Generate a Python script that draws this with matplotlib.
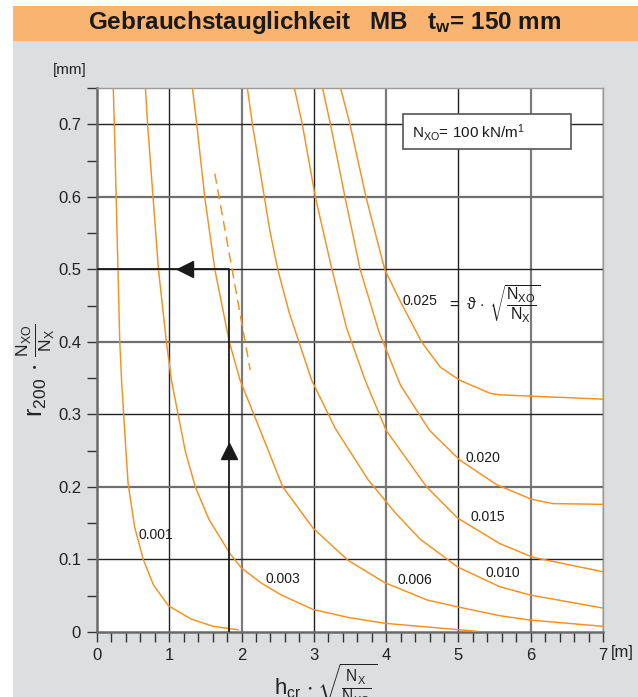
import matplotlib
matplotlib.use("Agg")
import matplotlib.pyplot as plt
from matplotlib import font_manager
from matplotlib.patches import Rectangle

avail = {f.name for f in font_manager.fontManager.ttflist}
NARROW = "Liberation Sans Narrow" if "Liberation Sans Narrow" in avail else "Liberation Sans"
plt.rcParams["font.family"] = [NARROW, "DejaVu Sans"]
plt.rcParams["mathtext.fontset"] = "custom"
plt.rcParams["mathtext.rm"] = NARROW
plt.rcParams["mathtext.it"] = NARROW
plt.rcParams["mathtext.bf"] = NARROW + ":bold"

# ---------------- data ----------------
c001_x = [0.225, 0.24, 0.265, 0.29, 0.315, 0.34, 0.375, 0.43, 0.52, 0.64, 0.78, 0.99, 1.30, 1.60, 1.95]
c001_y = [0.75, 0.70, 0.60, 0.50, 0.40, 0.347, 0.29, 0.205, 0.145, 0.10, 0.065, 0.036, 0.018, 0.008, 0.003]

c003_x = [0.67, 0.70, 0.85, 0.96, 1.03, 1.22, 1.36, 1.55, 1.84, 2.00, 2.28, 2.55, 2.99, 3.48, 3.98, 5.25]
c003_y = [0.75, 0.70, 0.50, 0.40, 0.347, 0.25, 0.20, 0.155, 0.108, 0.088, 0.067, 0.051, 0.031, 0.020, 0.012, 0.001]

c006_x = [1.32, 1.38, 1.49, 1.63, 1.83, 1.98, 2.25, 2.57, 2.99, 3.47, 3.98, 4.57, 5.02, 5.57, 5.99, 7.0]
c006_y = [0.75, 0.70, 0.60, 0.50, 0.40, 0.347, 0.28, 0.20, 0.143, 0.099, 0.068, 0.044, 0.034, 0.0225, 0.0165, 0.0078]

c010_x = [2.08, 2.15, 2.39, 2.50, 2.66, 2.97, 3.30, 3.75, 4.12, 4.47, 4.99, 5.57, 5.99, 7.0]
c010_y = [0.75, 0.70, 0.554, 0.50, 0.44, 0.347, 0.28, 0.21, 0.165, 0.128, 0.0896, 0.0625, 0.051, 0.033]

c015_x = [2.73, 2.84, 3.02, 3.25, 3.45, 3.71, 4.00, 4.56, 4.99, 5.57, 6.03, 7.0]
c015_y = [0.75, 0.70, 0.60, 0.50, 0.42, 0.347, 0.278, 0.20, 0.157, 0.122, 0.103, 0.083]

c020_x = [3.12, 3.23, 3.43, 3.64, 3.90, 4.20, 4.60, 5.02, 5.53, 6.01, 6.31, 7.0]
c020_y = [0.75, 0.70, 0.60, 0.50, 0.414, 0.34, 0.278, 0.237, 0.203, 0.183, 0.177, 0.176]

c025_x = [3.37, 3.50, 3.72, 3.98, 4.19, 4.49, 4.75, 5.02, 5.44, 5.57, 7.0]
c025_y = [0.75, 0.70, 0.60, 0.50, 0.457, 0.40, 0.365, 0.347, 0.329, 0.327, 0.321]

curve_labels = ["0.001", "0.003", "0.006", "0.010", "0.015", "0.020", "0.025"]
label_x = [0.82, 2.57, 4.40, 5.62, 5.40, 5.34, 4.47]
label_y = [0.134, 0.073, 0.072, 0.081, 0.158, 0.240, 0.456]

dash_x = [1.63, 2.12]
dash_y = [0.632, 0.361]

path_x = [0.0, 1.83, 1.83]
path_y = [0.5, 0.5, 0.0]
arrow_up = (1.83, 0.249)
arrow_left = (1.22, 0.5)

xticks = [0, 1, 2, 3, 4, 5, 6, 7]
yticks = [0, 0.1, 0.2, 0.3, 0.4, 0.5, 0.6, 0.7]
ytick_labels = ["0", "0.1", "0.2", "0.3", "0.4", "0.5", "0.6", "0.7"]

# ---------------- figure ----------------
W, H = 638, 697
fig = plt.figure(figsize=(W / 100, H / 100), dpi=100)
fig.patch.set_facecolor("white")
fig.patches.append(Rectangle((13 / W, 0), 1 - 13 / W, 1 - 41 / H, transform=fig.transFigure,
                             facecolor="#DDDEDF", edgecolor="none", zorder=-10))
fig.patches.append(Rectangle((13 / W, 1 - 41 / H), 1 - 13 / W, 35 / H, transform=fig.transFigure,
                             facecolor="#FAB472", edgecolor="none", zorder=-10))
fig.text(325 / W, 1 - 23 / H,
         r"Gebrauchstauglichkeit   MB   t$_\mathbf{w}$= 150 mm",
         ha="center", va="center", fontsize=17.5, fontweight="bold", color="#1a1a1a")

ax = fig.add_axes([97 / W, 1 - 632 / H, (603 - 97) / W, (632 - 88) / H])
ax.set_facecolor("white")
ax.set_xlim(0, 7)
ax.set_ylim(0, 0.75)

# grid
for i, gx in enumerate(xticks[1:], start=1):
    odd = i % 2 == 1
    ax.axvline(gx, color="#222222" if odd else "#7a7a7a", lw=1.0 if odd else 1.6, zorder=1)
for i, gy in enumerate(yticks[1:], start=1):
    odd = i % 2 == 1
    ax.axhline(gy, color="#222222" if odd else "#6f6f6f", lw=1.0 if odd else 1.6, zorder=1)

orange = "#F7901E"
for cx, cy in [(c001_x, c001_y), (c003_x, c003_y), (c006_x, c006_y), (c010_x, c010_y),
               (c015_x, c015_y), (c020_x, c020_y), (c025_x, c025_y)]:
    ax.plot(cx, cy, color=orange, lw=1.05, zorder=3, solid_joinstyle="round")

ax.plot(dash_x, dash_y, color=orange, lw=1.05, ls=(0, (7, 4)), zorder=3)

ax.plot(path_x, path_y, color="#1a1a1a", lw=1.3, zorder=4)
ax.plot(*arrow_up, marker="^", ms=11, color="#1a1a1a", zorder=5)
ax.plot(*arrow_left, marker="<", ms=11, color="#1a1a1a", zorder=5)

for t, lx, ly in zip(curve_labels, label_x, label_y):
    ax.text(lx, ly, t, fontsize=10, ha="center", va="center", color="#1a1a1a", zorder=6)

# formula next to the 0.025 label
ax.text(4.84, 0.452, r"$=\ \vartheta\,\cdot\,\sqrt{\dfrac{N_{XO}}{N_X}}$", fontsize=11.5,
        ha="left", va="center", color="#1a1a1a", zorder=6)

# N_xo box
ax.add_patch(Rectangle((4.23, 0.6656), 2.33, 0.0482, facecolor="white", edgecolor="#555555",
                       lw=1.2, zorder=7))
ax.text(4.36, 0.689, r"N$_{\mathregular{XO}}$= 100 kN/m$^{\mathregular{1}}$", fontsize=11,
        ha="left", va="center", color="#1a1a1a", zorder=8)

# spines & ticks
for s in ["top", "right"]:
    ax.spines[s].set_color("#9a9a9a")
    ax.spines[s].set_linewidth(1.0)
for s in ["left", "bottom"]:
    ax.spines[s].set_color("#6a6a6a")
    ax.spines[s].set_linewidth(1.8)
ax.set_xticks(xticks)
ax.set_xticklabels([str(v) for v in xticks])
ax.set_yticks(yticks)
ax.set_yticklabels(ytick_labels)
ax.set_xticks([v / 5 for v in range(36)], minor=True)
ax.set_yticks([v / 20 for v in range(16)], minor=True)
ax.tick_params(which="both", direction="out", length=7.5, width=1.0, color="#333333")
ax.tick_params(axis="both", which="major", labelsize=12, pad=4, labelcolor="#222222")

fig.text(70 / W, 1 - 70 / H, "[mm]", fontsize=11, ha="center", va="center", color="#222222")
fig.text(622 / W, 1 - 653 / H, "[m]", fontsize=12, ha="center", va="center", color="#222222")

fig.text(36 / W, 1 - 370 / H, r"$\mathregular{r_{200}\,\cdot\,\frac{N_{XO}}{N_X}}$", fontsize=18,
         rotation=90, ha="center", va="center", color="#222222")
fig.text(326 / W, 1 - 684 / H, r"$\mathregular{h_{cr}\,\cdot\sqrt{\frac{N_X}{N_{XO}}}}$", fontsize=16,
         ha="center", va="center", color="#222222")

fig.savefig("out.png", dpi=100, facecolor=fig.get_facecolor())
